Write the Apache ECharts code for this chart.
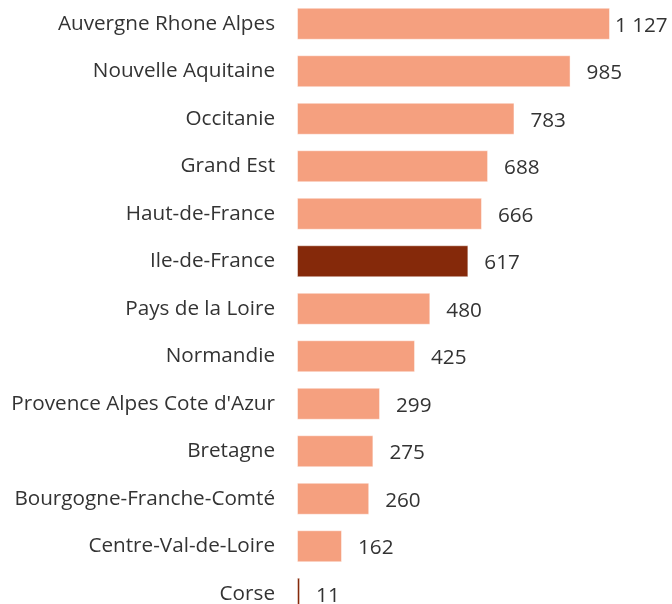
<!DOCTYPE html>
<html>
<head>
<meta charset="utf-8">
<script src="https://cdn.jsdelivr.net/npm/echarts@6/dist/echarts.min.js"></script>
<style>
html,body{margin:0;padding:0;background:#fff;overflow:hidden;width:672px;height:604px;}
#chart{width:672px;height:620px;}
</style>
</head>
<body>
<div id="chart"></div>
<script>
var categories = ["Auvergne Rhone Alpes","Nouvelle Aquitaine","Occitanie","Grand Est","Haut-de-France","Ile-de-France","Pays de la Loire","Normandie","Provence Alpes Cote d'Azur","Bretagne","Bourgogne-Franche-Comté","Centre-Val-de-Loire","Corse"];
var values = [1127, 985, 783, 688, 666, 617, 480, 425, 299, 275, 260, 162, 11];
var highlighted = ["Ile-de-France", "Corse"];

function fmt(v){ return String(v).replace(/\B(?=(\d{3})+(?!\d))/g, ' '); }

var data = values.map(function(v, i){
  var hi = highlighted.indexOf(categories[i]) >= 0;
  return {
    value: v,
    itemStyle: { color: hi ? '#85290A' : '#F5A07F' },
    label: { distance: v >= 1000 ? 5 : 16 }
  };
});

var chart = echarts.init(document.getElementById('chart'), null, {renderer:'canvas'});
chart.setOption({
  animation: false,
  grid: { left: 297, right: 62, top: 0, height: 617.5, containLabel: false },
  xAxis: { type: 'value', min: 0, max: 1127, show: false },
  yAxis: {
    type: 'category', data: categories, inverse: true,
    axisLine: { show: false }, axisTick: { show: false },
    axisLabel: { margin: 22, fontSize: 20.7, color: '#333', fontFamily: 'Open Sans' }
  },
  series: [{
    type: 'bar', data: data, barWidth: 32,
    itemStyle: { borderColor: 'rgba(255,255,255,0.45)', borderWidth: 1 },
    label: {
      show: true, position: 'right', fontSize: 20.7, color: '#333',
      fontFamily: 'Open Sans', offset: [0, 2],
      formatter: function(p){ return fmt(p.value); }
    }
  }]
});
</script>
</body>
</html>
